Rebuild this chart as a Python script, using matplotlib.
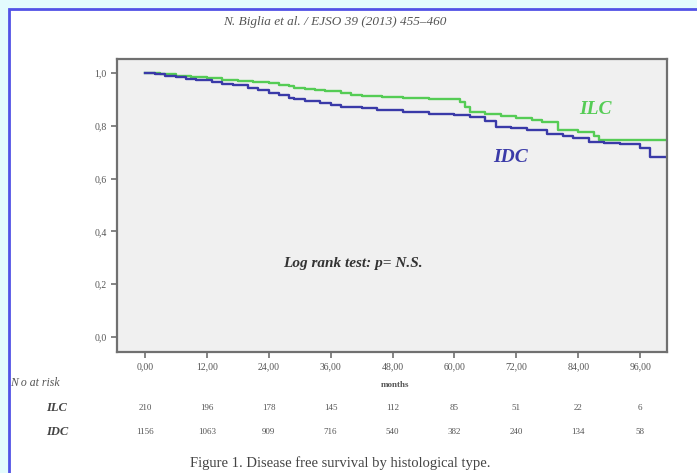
import matplotlib.pyplot as plt
import matplotlib.transforms as mtransforms
from matplotlib.patches import Rectangle

# Kaplan-Meier step values (months, survival)
ilc_t = [0, 3, 6, 9, 12, 15, 18, 21, 24, 26, 28, 29, 31, 33, 35, 38, 40, 42, 46, 50,
         55, 61, 62, 63, 66, 69, 72, 75, 77, 80, 84, 87, 88, 101]
ilc_s = [1.0, 0.995, 0.99, 0.986, 0.98, 0.975, 0.971, 0.967, 0.962, 0.955, 0.95, 0.945,
         0.94, 0.936, 0.93, 0.923, 0.917, 0.912, 0.908, 0.905, 0.90, 0.89, 0.87, 0.853,
         0.845, 0.838, 0.83, 0.823, 0.815, 0.784, 0.778, 0.76, 0.746, 0.746]

idc_t = [0, 2, 4, 6, 8, 10, 13, 15, 17, 20, 22, 24, 26, 28, 29, 31, 34, 36, 38, 42, 45,
         50, 55, 60, 63, 66, 68, 71, 74, 78, 81, 83, 86, 89, 92, 96, 98, 101]
idc_s = [1.0, 0.995, 0.99, 0.984, 0.978, 0.972, 0.965, 0.96, 0.955, 0.945, 0.936, 0.925,
         0.915, 0.907, 0.90, 0.893, 0.885, 0.879, 0.873, 0.866, 0.86, 0.852, 0.845, 0.84,
         0.835, 0.82, 0.797, 0.79, 0.785, 0.77, 0.763, 0.755, 0.74, 0.735, 0.73, 0.716,
         0.683, 0.683]

# number at risk table
risk_months = [0, 12, 24, 36, 48, 60, 72, 84, 96]
ilc_risk = [210, 196, 178, 145, 112, 85, 51, 22, 6]
idc_risk = [1156, 1063, 909, 716, 540, 382, 240, 134, 58]

y_ticks = [0.0, 0.2, 0.4, 0.6, 0.8, 1.0]

serif = ['Liberation Serif', 'DejaVu Serif']
green = '#55cc55'
blue = '#3a3aa8'
grey_txt = '#555555'

fig = plt.figure(figsize=(6.97, 4.73), dpi=100)
fig.patch.set_facecolor('#e3fbfd')

# white page with blue border
page = Rectangle((9 / 697, -0.05), 1.2, 1 - 9 / 473 + 0.05, transform=fig.transFigure,
                 facecolor='white', edgecolor='#5252e6', linewidth=2, zorder=-1)
fig.patches.append(page)

ax = fig.add_axes([117 / 697, 1 - 352 / 473, (667 - 117) / 697, (352 - 59) / 473])
ax.set_facecolor('#f0f0f0')
for sp in ax.spines.values():
    sp.set_color('#707070')
    sp.set_linewidth(1.6)

ax.step(ilc_t, ilc_s, where='post', color=green, lw=1.7)
ax.step(idc_t, idc_s, where='post', color=blue, lw=1.7)

ax.set_xlim(-5.4, 101.2)
ax.set_ylim(-0.057, 1.053)
ax.set_xticks(risk_months)
ax.set_xticklabels([f'{m},00' for m in risk_months])
ax.set_yticks(y_ticks)
ax.set_yticklabels([f'{v:.1f}'.replace('.', ',') for v in y_ticks])
ax.tick_params(labelsize=7, colors='#707070', labelcolor=grey_txt, length=4, width=1.2)
for lab in ax.get_xticklabels() + ax.get_yticklabels():
    lab.set_family(serif)

ax.text(87.4, 0.86, 'ILC', color=green, fontsize=14, fontweight='bold', style='italic',
        family=serif, ha='center', va='center')
ax.text(70.9, 0.68, 'IDC', color=blue, fontsize=14, fontweight='bold', style='italic',
        family=serif, ha='center', va='center')
ax.text(40.3, 0.28, 'Log rank test: p= N.S.', color='#333333', fontsize=11,
        fontweight='bold', style='italic', family=serif, ha='center', va='center')

# header and caption
fig.text(335 / 697, 1 - 22 / 473, 'N. Biglia et al. / EJSO 39 (2013) 455\u2013460', fontsize=9.5,
         style='italic', family=serif, color=grey_txt, ha='center', va='center')
fig.text(340 / 697, 1 - 463 / 473, 'Figure 1. Disease free survival by histological type.',
         fontsize=10.5, family=serif, color='#444444', ha='center', va='center')

# x label and risk table
fig.text(395 / 697, 1 - 385 / 473, 'months', fontsize=6.5, fontweight='bold', family=serif,
         color=grey_txt, ha='center', va='center')
fig.text(10 / 697, 1 - 383 / 473, 'N o at risk', fontsize=8.5, style='italic', family=serif,
         color=grey_txt, ha='left', va='center')

trans = mtransforms.blended_transform_factory(ax.transData, fig.transFigure)
fig.text(57 / 697, 1 - 408 / 473, 'ILC', fontsize=9, fontweight='bold', style='italic',
         family=serif, color='#444444', ha='center', va='center')
fig.text(57 / 697, 1 - 432 / 473, 'IDC', fontsize=9, fontweight='bold', style='italic',
         family=serif, color='#444444', ha='center', va='center')
for m, a, b in zip(risk_months, ilc_risk, idc_risk):
    ax.text(m, 1 - 408 / 473, str(a), transform=trans, fontsize=6.5, family=serif,
            color=grey_txt, ha='center', va='center')
    ax.text(m, 1 - 432 / 473, str(b), transform=trans, fontsize=6.5, family=serif,
            color=grey_txt, ha='center', va='center')

fig.savefig('out.png', dpi=100, facecolor=fig.get_facecolor())
